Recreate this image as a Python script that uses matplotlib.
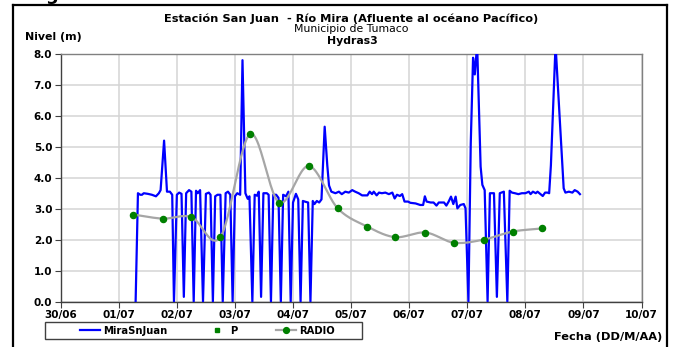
import numpy as np
import matplotlib
matplotlib.use("Agg")
import matplotlib.pyplot as plt
from matplotlib.lines import Line2D
from matplotlib.patches import Rectangle

plt.rcParams['font.family'] = ['DejaVu Sans']

# ---------------- data ----------------
# x values are days after 30/06 (0 = 30/06 00:00)
tick_labels = ["30/06", "01/07", "02/07", "03/07", "04/07", "05/07",
               "06/07", "07/07", "08/07", "09/07", "10/07"]
y_ticks = [0.0, 1.0, 2.0, 3.0, 4.0, 5.0, 6.0, 7.0, 8.0]

mira_t = [1.29, 1.33, 1.37, 1.40, 1.43, 1.50, 1.57, 1.64, 1.69, 1.72, 1.78, 1.83, 1.88, 1.92,
          1.95, 2.00, 2.04, 2.08, 2.12, 2.16, 2.21, 2.25, 2.29, 2.33, 2.36, 2.40,
          2.45, 2.50, 2.55, 2.58, 2.62, 2.66, 2.70, 2.75, 2.79, 2.84, 2.88, 2.92,
          2.96, 3.00, 3.04, 3.09, 3.13, 3.18, 3.22, 3.25, 3.30, 3.34, 3.38, 3.41,
          3.45, 3.49, 3.55, 3.58, 3.62, 3.66, 3.71, 3.75, 3.79, 3.83, 3.88, 3.92,
          3.96, 4.00, 4.05, 4.09, 4.13, 4.17, 4.22, 4.26, 4.30, 4.34, 4.37, 4.41,
          4.45, 4.49, 4.545, 4.59, 4.62, 4.66,
          4.73, 4.79, 4.84, 4.90, 4.96, 5.02, 5.07, 5.13, 5.19, 5.28, 5.32, 5.36,
          5.39, 5.44, 5.48, 5.53, 5.59, 5.65, 5.71, 5.75, 5.79, 5.84, 5.88, 5.92,
          5.98, 6.02, 6.11, 6.19, 6.24, 6.27, 6.30, 6.37, 6.42, 6.47, 6.51, 6.60,
          6.64, 6.68, 6.72, 6.76, 6.80, 6.83, 6.88, 6.94, 6.97,
          7.02, 7.06, 7.10, 7.13, 7.17, 7.23, 7.26, 7.30, 7.35, 7.39, 7.46, 7.51,
          7.56, 7.63, 7.69, 7.73, 7.77, 7.82, 7.88, 7.94, 8.00, 8.06, 8.09, 8.13,
          8.18, 8.21, 8.26, 8.30, 8.34, 8.38, 8.41, 8.44, 8.52, 8.66, 8.69, 8.75,
          8.81, 8.85, 8.90, 8.94]
mira_v = [0.0, 3.50, 3.45, 3.45, 3.50, 3.48, 3.45, 3.40, 3.50, 3.60, 5.20, 3.55, 3.55, 3.45,
          0.0, 3.45, 3.52, 3.48, 0.15, 3.50, 3.60, 3.55, 0.0, 3.58, 3.50, 3.60,
          0.0, 3.48, 3.52, 3.45, 0.0, 3.40, 3.45, 3.45, 0.0, 3.50, 3.55, 3.45,
          0.0, 3.40, 3.50, 3.45, 7.80, 3.50, 3.32, 3.40, 0.0, 3.45, 3.42, 3.55,
          0.15, 3.50, 3.50, 3.45, 0.0, 3.45, 3.45, 3.35, 0.0, 3.45, 3.40, 3.55,
          0.0, 3.20, 3.48, 3.30, 0.0, 3.25, 3.22, 3.20, 0.0, 3.25, 3.15, 3.25,
          3.20, 3.30, 5.65, 4.40, 3.75, 3.55,
          3.50, 3.55, 3.47, 3.55, 3.52, 3.60, 3.55, 3.50, 3.43, 3.43, 3.55, 3.47,
          3.55, 3.43, 3.52, 3.50, 3.52, 3.47, 3.52, 3.33, 3.45, 3.41, 3.47, 3.23,
          3.23, 3.19, 3.17, 3.12, 3.12, 3.40, 3.23, 3.20, 3.20, 3.10, 3.20, 3.20,
          3.10, 3.23, 3.39, 3.15, 3.39, 3.01, 3.12, 3.15, 3.01,
          0.0, 5.10, 7.88, 7.34, 8.30, 4.36, 3.77, 3.60, 0.0, 3.50, 3.50, 0.15,
          3.50, 3.55, 0.0, 3.58, 3.52, 3.50, 3.47, 3.50, 3.50, 3.55, 3.47, 3.55,
          3.50, 3.55, 3.47, 3.41, 3.52, 3.52, 3.50, 4.40, 8.30, 3.66, 3.52, 3.55,
          3.52, 3.60, 3.55, 3.47]

p_t = []
p_v = []

radio_t = [1.25, 1.76, 2.25, 2.75, 3.26, 3.76, 4.27, 4.77, 5.28, 5.76, 6.28, 6.77, 7.28, 7.78, 8.28]
radio_v = [2.81, 2.68, 2.73, 2.08, 5.41, 3.20, 4.38, 3.01, 2.42, 2.08, 2.23, 1.90, 2.00, 2.26, 2.36]


def catmull_rom(xs, ys, n=24):
    xs = np.asarray(xs, float)
    ys = np.asarray(ys, float)
    px = np.concatenate([[2 * xs[0] - xs[1]], xs, [2 * xs[-1] - xs[-2]]])
    py = np.concatenate([[2 * ys[0] - ys[1]], ys, [2 * ys[-1] - ys[-2]]])
    ox, oy = [], []
    for i in range(1, len(px) - 2):
        t = np.linspace(0, 1, n, endpoint=False)
        for arr, out in ((px, ox), (py, oy)):
            p0, p1, p2, p3 = arr[i - 1], arr[i], arr[i + 1], arr[i + 2]
            out.extend(0.5 * ((2 * p1) + (-p0 + p2) * t +
                              (2 * p0 - 5 * p1 + 4 * p2 - p3) * t ** 2 +
                              (-p0 + 3 * p1 - 3 * p2 + p3) * t ** 3))
    ox.append(xs[-1])
    oy.append(ys[-1])
    return np.array(ox), np.array(oy)


# ---------------- figure ----------------
W, H = 674, 347
fig = plt.figure(figsize=(W / 100, H / 100), dpi=100)
ax = fig.add_axes([60.7 / W, 1 - 301.5 / H, (641.5 - 60.7) / W, (301.5 - 54) / H])

ax.set_xlim(0, 10)
ax.set_ylim(0, 8)
ax.set_xticks(range(len(tick_labels)))
ax.set_xticklabels(tick_labels)
ax.set_yticks(y_ticks)
ax.set_yticklabels([f"{v:.1f}" for v in y_ticks])
ax.grid(True, color="#d4d4d4", linewidth=1.1)
ax.set_axisbelow(True)
for s in ax.spines.values():
    s.set_color("#808080")
    s.set_linewidth(1.0)
ax.spines['bottom'].set_color("#404040")
ax.spines['left'].set_color("#404040")
ax.tick_params(direction='out', length=4, width=0.8, color="#404040", pad=2,
               labelsize=7.5)
for lab in ax.get_xticklabels() + ax.get_yticklabels():
    lab.set_fontweight('bold')

ax.plot(mira_t, mira_v, color="#0000ff", linewidth=1.6, label="MiraSnJuan", zorder=3)
ax.plot(p_t, p_v, linestyle='none', marker='s', markersize=2.5, color="#008000", label="P")
sx, sy = catmull_rom(radio_t, radio_v)
ax.plot(sx, sy, color="#a6a6a6", linewidth=1.6, zorder=4)
ax.plot(radio_t, radio_v, linestyle='none', marker='o', markersize=4.4,
        color="#008000", zorder=5)
radio_handle = Line2D([], [], color="#a6a6a6", linewidth=1.6, marker='o',
                      markersize=4.2, markerfacecolor="#008000", markeredgecolor="#008000")
mira_handle = Line2D([], [], color="#0000ff", linewidth=1.6)
p_handle = Line2D([], [], linestyle='none', marker='s', markersize=2.2, color="#008000")

# titles
fig.text(351.5 / W, 1 - 18.3 / H, "Estación San Juan  - Río Mira (Afluente al océano Pacífico)",
         ha='center', va='center', fontsize=8.2, fontweight='bold')
fig.text(351.5 / W, 1 - 29.0 / H, "Municipio de Tumaco", ha='center', va='center', fontsize=7.8)
fig.text(352 / W, 1 - 41.0 / H, "Hydras3", ha='center', va='center', fontsize=7.8,
         fontweight='bold')
fig.text(25 / W, 1 - 37.3 / H, "Nivel (m)", ha='left', va='center', fontsize=7.9,
         fontweight='bold')
fig.text(662 / W, 1 - 336.7 / H, "Fecha (DD/M/AA)", ha='right', va='center', fontsize=8.2,
         fontweight='bold')
fig.text(52 / W, 1 - 0.2 / H, "g", ha='center', va='baseline', fontsize=13, fontweight='bold')

leg = fig.legend([mira_handle, p_handle, radio_handle], ["MiraSnJuan", "P", "RADIO"],
                 loc='center', bbox_to_anchor=((45 + 362) / 2 / W + 0.006, 1 - 330.5 / H),
                 ncol=3, frameon=False, handlelength=2.0,
                 handletextpad=0.3, columnspacing=3.9, borderpad=0.35,
                 prop={'weight': 'bold', 'size': 7.2})
fig.add_artist(Rectangle((45 / W, 1 - 339 / H), (362 - 45) / W, (339 - 321.7) / H,
                         transform=fig.transFigure, fill=False, edgecolor="#404040",
                         linewidth=1.0))

# outer frame
for xs, ys in (([13.3, 13.3], [347, 5]), ([13.3, 667.3], [5, 5]), ([667.3, 667.3], [5, 347])):
    fig.add_artist(Line2D([x / W for x in xs], [1 - y / H for y in ys],
                          color="black", linewidth=1.6, transform=fig.transFigure))

fig.savefig("out.png", dpi=100)
